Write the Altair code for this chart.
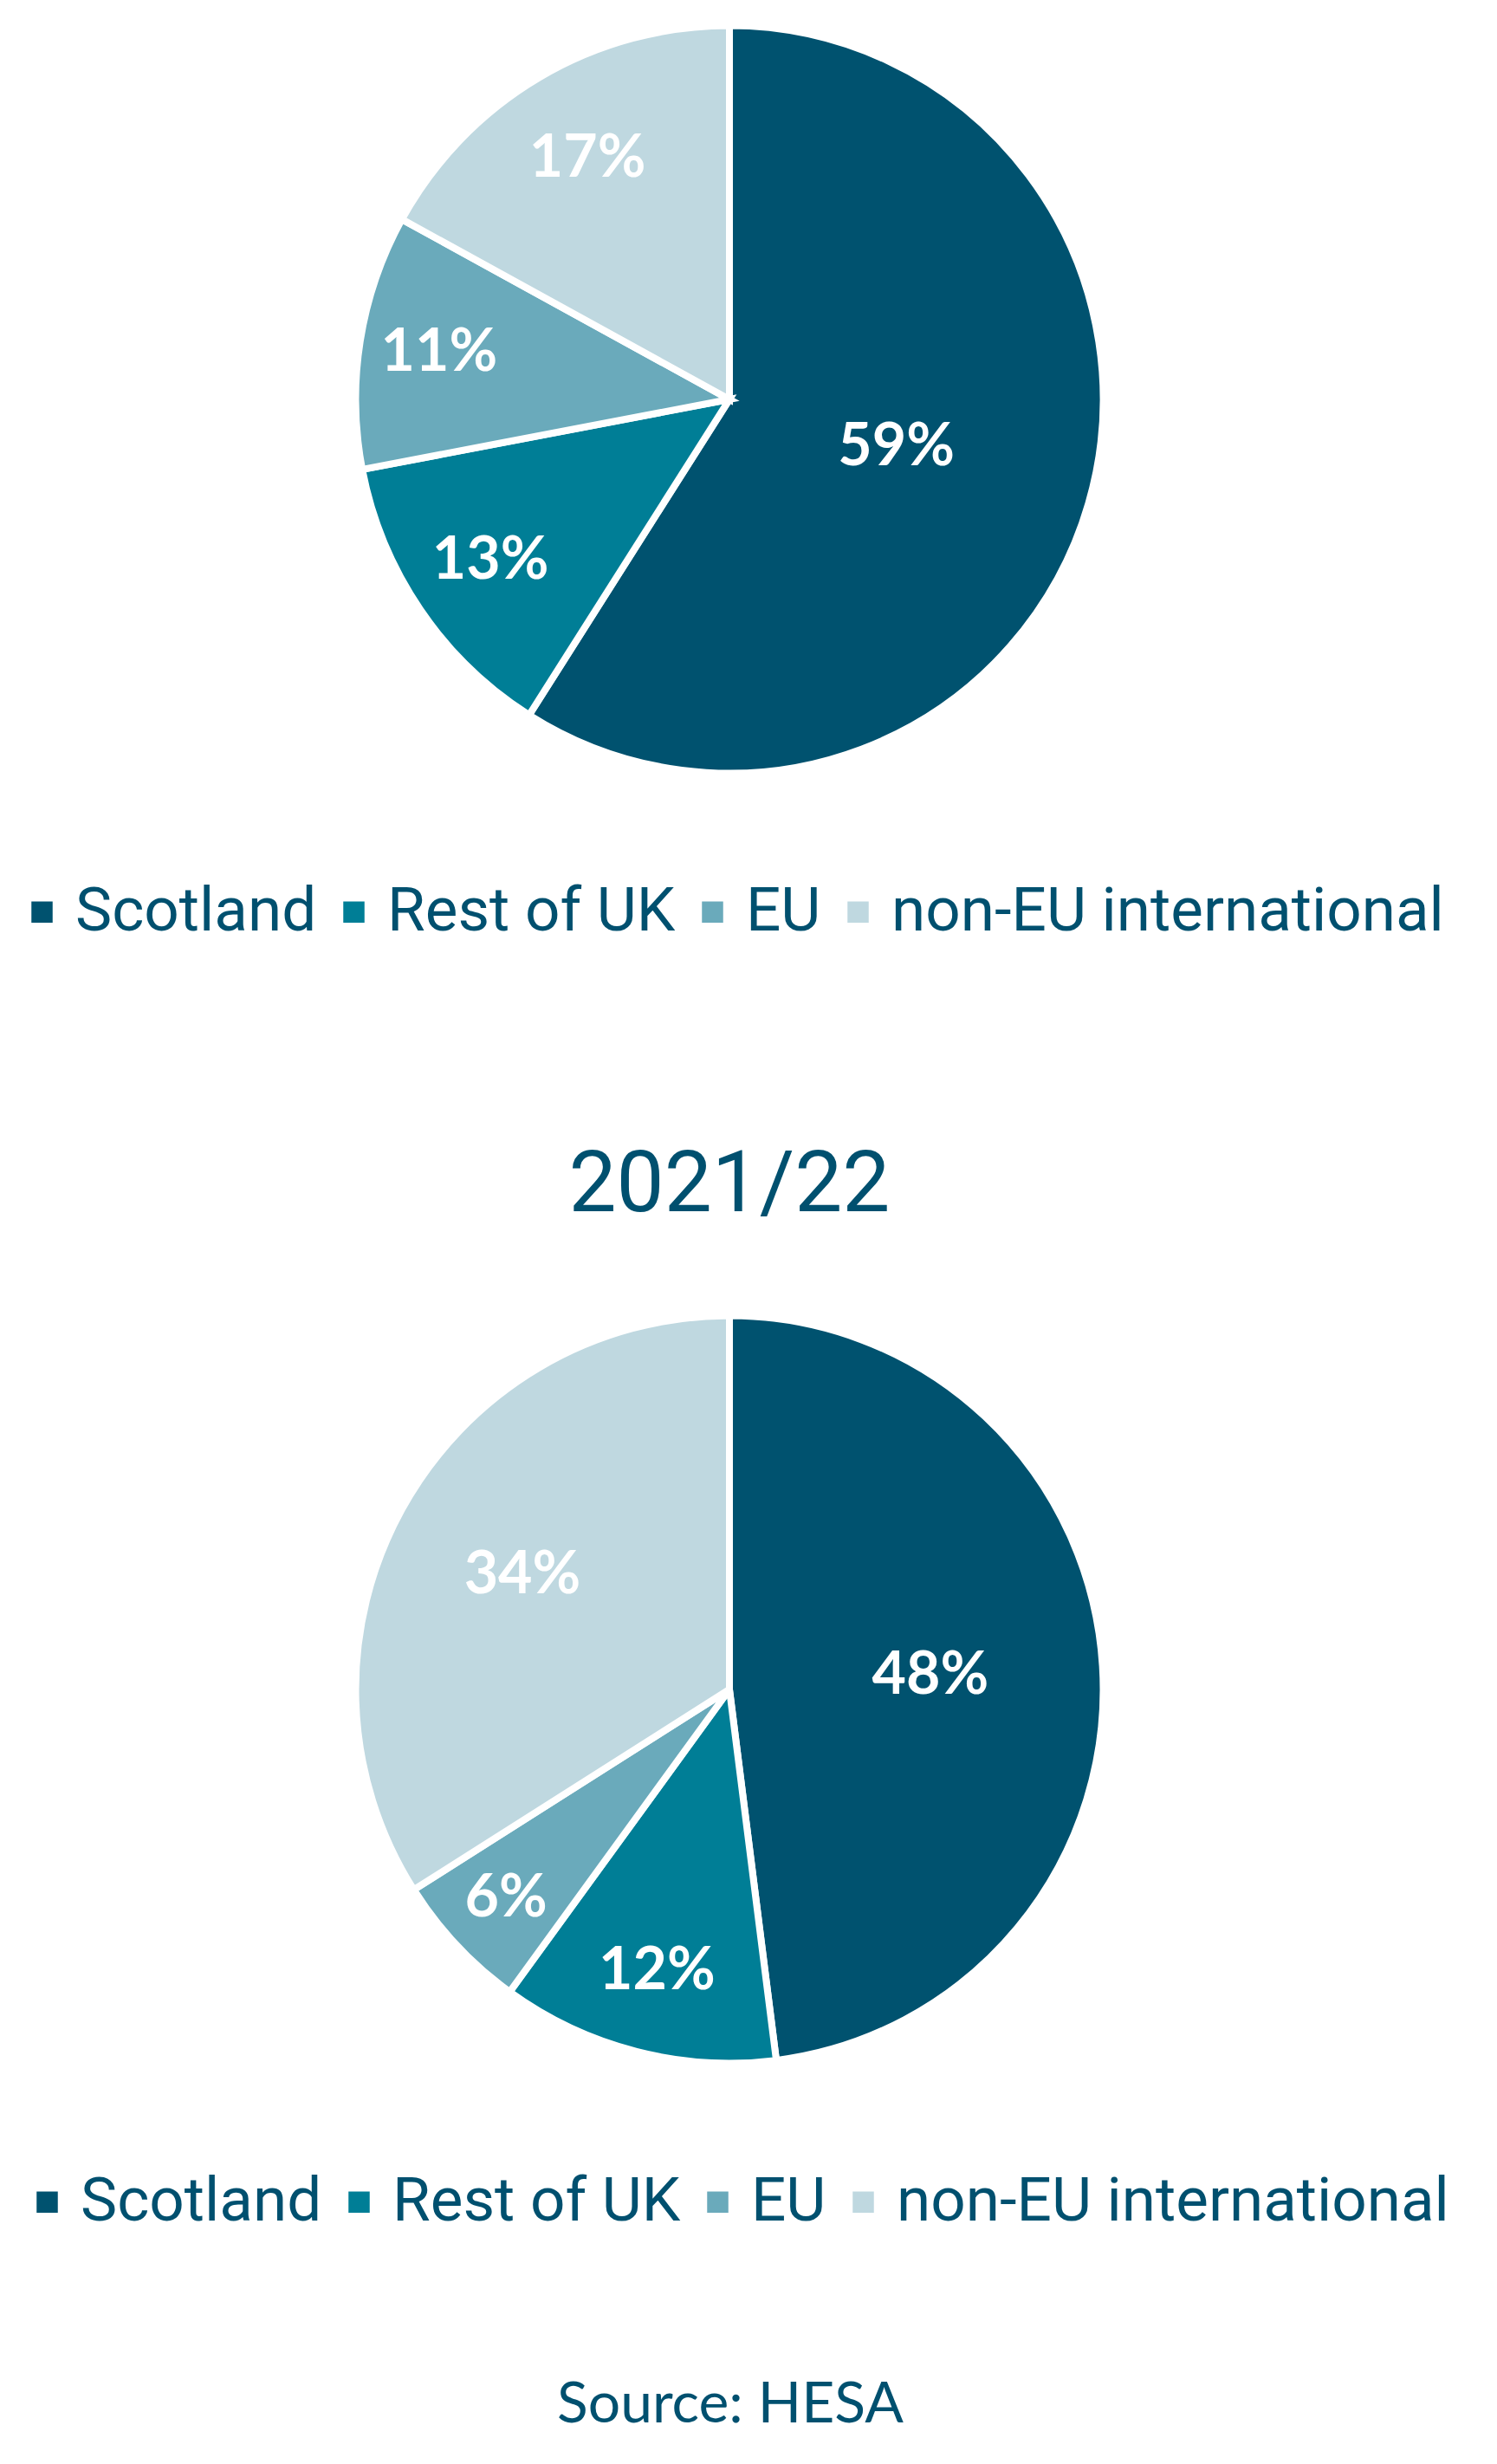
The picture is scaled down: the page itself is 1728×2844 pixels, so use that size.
import altair as alt
import pandas as pd
import math

categories = ["Scotland", "Rest of UK", "EU", "non-EU international"]
share_top = [59, 13, 11, 17]
share_2021 = [48, 12, 6, 34]
colors = ["#00526F", "#007E96", "#6AAABB", "#BFD8E0"]
bottom_title = "2021/22"
source_text = "Source: HESA"

TEXT = "#00506F"
R = 431.5
SW = 8
W, H = 1640, 870


def pie(values, title=None, legend_x=-9):
    df = pd.DataFrame({"category": categories, "pct": values, "idx": list(range(len(categories)))})
    base = alt.Chart(df).transform_window(
        cum="sum(pct)", sort=[alt.SortField("idx")], frame=[None, 0]
    ).transform_calculate(
        start="datum.cum - datum.pct",
        mid="datum.cum - datum.pct / 2",
        label="datum.pct + '%'",
        r=f"{R} * (0.86 - 0.67 * datum.pct / 100)",
    )
    tscale = alt.Scale(domain=[0, 100], range=[0, 2 * math.pi])
    color = alt.Color(
        "category:N",
        scale=alt.Scale(domain=categories, range=colors),
        legend=alt.Legend(
            orient="none", legendX=legend_x, legendY=991, direction="horizontal", columns=4,
            title=None, symbolType="square", symbolSize=600, symbolStrokeWidth=0,
            labelFontSize=71, labelFont="Roboto", labelColor=TEXT, labelOffset=3,
            columnPadding=7, labelLimit=0, padding=0,
        ),
    )
    arc = base.mark_arc(outerRadius=R, stroke="white", strokeWidth=SW).encode(
        theta=alt.Theta("start:Q", scale=tscale),
        theta2="cum:Q",
        color=color,
    )
    text = base.mark_text(font="Lato", fontWeight="bold", fontSize=68, color="white").encode(
        theta=alt.Theta("mid:Q", scale=tscale),
        radius=alt.Radius("r:Q", scale=None),
        text="label:N",
    )
    props = dict(width=W, height=H)
    if title:
        props["title"] = alt.TitleParams(title, font="Roboto", fontSize=98, fontWeight="normal",
                                         color=TEXT, anchor="middle", offset=84)
    return alt.layer(arc, text).properties(**props)


chart = alt.vconcat(
    pie(share_top, legend_x=-9),
    pie(share_2021, bottom_title, legend_x=-3),
    spacing=231,
).properties(
    title=alt.TitleParams(source_text, orient="bottom", anchor="middle", font="Lato",
                          fontSize=66, fontWeight="normal", color=TEXT, offset=167),
).configure_view(strokeWidth=0).resolve_scale(color="independent")

chart.save("out.html", embed_options={"renderer": "svg", "actions": False})
